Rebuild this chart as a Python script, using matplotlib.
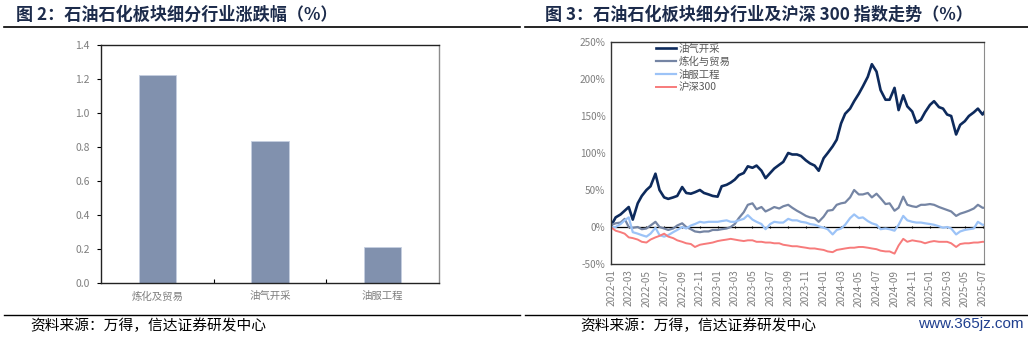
import matplotlib
matplotlib.use("Agg")
import matplotlib.pyplot as plt
import matplotlib.dates as mdates
from matplotlib.lines import Line2D
import pandas as pd
import numpy as np

plt.rcParams['font.family'] = ['Noto Sans CJK SC', 'DejaVu Sans']

# ---------------- data ----------------
bar_categories = ["炼化及贸易", "油气开采", "油服工程"]
bar_values = [1.225, 0.835, 0.21]

# semi-monthly observation dates (1st & 15th) plus final day
dates = list(pd.date_range("2022-01-01", periods=85, freq="SMS")) + [pd.Timestamp("2025-07-10")]

oil_gas = [3, 13, 17, 22, 27, 10, 32, 42, 50, 55,
           72, 50, 40, 38, 40, 42, 54, 46, 45, 47,
           50, 46, 44, 42, 41, 55, 57, 60, 64, 70,
           73, 82, 80, 83, 76, 66, 73, 79, 84, 88,
           100, 98, 98, 96, 90, 86, 83, 76, 93, 100,
           109, 118, 140, 153, 160, 170, 180, 190, 203, 220,
           210, 185, 172, 172, 188, 158, 178, 163, 156, 141,
           145, 155, 165, 170, 162, 160, 152, 150, 125, 138,
           143, 150, 155, 160, 152, 157]

refining = [3, 5, 6, 11, 0, -1, 0, -3, -2, 2,
            7, 0, -2, -4, -2, 2, 5, 0, -3, -6,
            -7, -6, -6, -4, -4, -3, -2, 0, 4, 12,
            20, 30, 32, 24, 27, 21, 24, 27, 25, 28,
            30, 26, 22, 19, 15, 13, 12, 7, 14, 22,
            23, 30, 32, 33, 40, 50, 44, 44, 46, 40,
            45, 39, 31, 32, 22, 26, 41, 30, 28, 27,
            30, 30, 31, 30, 27, 25, 23, 21, 15, 18,
            20, 22, 25, 30, 26, 26]

oilfield = [0, 0, 4, 9, 13, -7, -9, -11, -13, -9,
            -1, -11, -13, -11, -7, -4, 0, -2, 2, 4,
            7, 6, 7, 7, 7, 8, 9, 7, 7, 9,
            11, 16, 10, 7, 4, -3, 4, 7, 6, 6,
            11, 9, 9, 7, 6, 4, 3, 1, -1, -3,
            -10, -4, -2, 3, 12, 17, 12, 13, 8, 5,
            3, -3, -2, -3, -5, 3, 15, 9, 7, 6,
            6, 5, 4, 3, 1, -1, 0, -2, -10, -6,
            -4, -3, -2, 7, 3, 3]

hs300 = [-1, -5, -7, -9, -14, -15, -17, -20, -21, -17,
         -14, -12, -9, -13, -15, -18, -20, -22, -23, -27,
         -24, -23, -22, -21, -19, -18, -17, -16, -17, -18,
         -19, -18, -18, -20, -20, -21, -21, -22, -22, -24,
         -25, -26, -26, -27, -28, -29, -29, -30, -31, -33,
         -34, -31, -30, -29, -28, -28, -27, -27, -28, -29,
         -30, -32, -33, -33, -36, -25, -16, -20, -18, -19,
         -20, -22, -20, -19, -20, -20, -20, -22, -27, -23,
         -22, -22, -21, -21, -20, -20]

series_names = ["油气开采", "炼化与贸易", "油服工程", "沪深300"]
series_values = [oil_gas, refining, oilfield, hs300]
series_colors = ["#0d2a5c", "#7585a4", "#9cc3f7", "#f77b7b"]
series_widths = [1.9, 1.6, 1.6, 1.4]

# ---------------- figure ----------------
W, H = 1028, 337
fig = plt.figure(figsize=(W / 100, H / 100), dpi=100)

def fx(px):
    return px / W

def fy(py):
    return 1 - py / H

title_color = "#1c2b4b"
gray_txt = "#7f7f7f"

# titles
fig.text(fx(16), fy(15), "图 2：石油石化板块细分行业涨跌幅（%）", fontsize=12.3,
         fontweight="bold", color=title_color, va="center", ha="left")
fig.text(fx(545), fy(15), "图 3：石油石化板块细分行业及沪深 300 指数走势（%）", fontsize=12.3,
         fontweight="bold", color=title_color, va="center", ha="left")
fig.add_artist(Line2D([fx(4), fx(520)], [fy(27), fy(27)], color="black", lw=1.2))
fig.add_artist(Line2D([fx(525), fx(1028)], [fy(27), fy(27)], color="black", lw=1.2))

# footer
fig.add_artist(Line2D([fx(4), fx(520)], [fy(315), fy(315)], color="black", lw=1.0))
fig.add_artist(Line2D([fx(525), fx(1028)], [fy(315), fy(315)], color="black", lw=1.0))
fig.text(fx(30), fy(326), "资料来源：万得，信达证券研发中心", fontsize=10.6, color="black",
         va="center", ha="left", style="italic")
fig.text(fx(580), fy(326), "资料来源：万得，信达证券研发中心", fontsize=10.6, color="black",
         va="center", ha="left", style="italic")
fig.text(fx(1024), fy(324), "www.365jz.com", fontsize=11, color="#1f3f8f",
         va="center", ha="right", family=["Liberation Sans", "DejaVu Sans"])

# ---------------- left bar chart ----------------
ax1 = fig.add_axes([fx(101), fy(283), fx(439) - fx(101), fy(45) - fy(283)])
x = np.arange(len(bar_categories))
ax1.bar(x, bar_values, width=0.33, color="#8191ae", edgecolor="#c5cfe0", linewidth=0.6)
ax1.set_xlim(-0.5, len(bar_categories) - 0.5)
ax1.set_ylim(0, 1.4)
ax1.set_yticks(np.arange(0, 1.41, 0.2))
ax1.set_yticklabels([f"{v:.1f}" for v in np.arange(0, 1.41, 0.2)], fontsize=7.5, color=gray_txt)
ax1.set_xticks(x)
ax1.set_xticklabels(bar_categories, fontsize=7.5, color=gray_txt)
ax1.tick_params(axis="x", length=0, pad=6)
ax1.tick_params(axis="y", direction="out", length=3, width=0.8, pad=5)
ax1.set_xticks(np.arange(0.5, len(bar_categories) - 0.5, 1.0), minor=True)
ax1.tick_params(axis="x", which="minor", direction="in", length=3, width=0.8)
for s in ["left", "bottom", "top"]:
    ax1.spines[s].set_color("#222222")
    ax1.spines[s].set_linewidth(1.0)
ax1.spines["right"].set_color("#8c8c8c")
ax1.spines["right"].set_linewidth(1.0)

# ---------------- right line chart ----------------
ax2 = fig.add_axes([fx(611), fy(264), fx(984) - fx(611), fy(42) - fy(264)])
for name, vals, col, lw in zip(series_names, series_values, series_colors, series_widths):
    ax2.plot(dates, vals, color=col, lw=lw, label=name, solid_joinstyle="round")
ax2.axhline(0, color="black", lw=0.9, zorder=1)

tick_dates = pd.date_range("2022-01-01", "2025-07-01", freq="2MS")
ax2.vlines(tick_dates, -2, 2, color="black", lw=0.8, zorder=1)
ax2.set_xlim(pd.Timestamp("2021-12-30"), pd.Timestamp("2025-07-06"))
ax2.set_ylim(-50, 250)
ax2.set_yticks(np.arange(-50, 251, 50))
ax2.set_yticklabels([f"{v}%" for v in range(-50, 251, 50)], fontsize=7.2, color=gray_txt)
ax2.set_xticks(tick_dates)
ax2.set_xticklabels([d.strftime("%Y-%m") for d in tick_dates], rotation=90,
                    fontsize=7.2, color=gray_txt)
ax2.tick_params(axis="both", length=0, pad=4)
for s in ["left", "bottom", "top"]:
    ax2.spines[s].set_color("#333333")
    ax2.spines[s].set_linewidth(1.0)
ax2.spines["right"].set_color("#8c8c8c")

leg = ax2.legend(loc="upper left", bbox_to_anchor=(0.115, 1.0), frameon=False,
                 fontsize=7.5, handlelength=1.9, handletextpad=0.3, labelspacing=0.25,
                 borderaxespad=0.0, borderpad=0.2)
for t in leg.get_texts():
    t.set_color("#595959")

fig.savefig("out.png", dpi=100)
